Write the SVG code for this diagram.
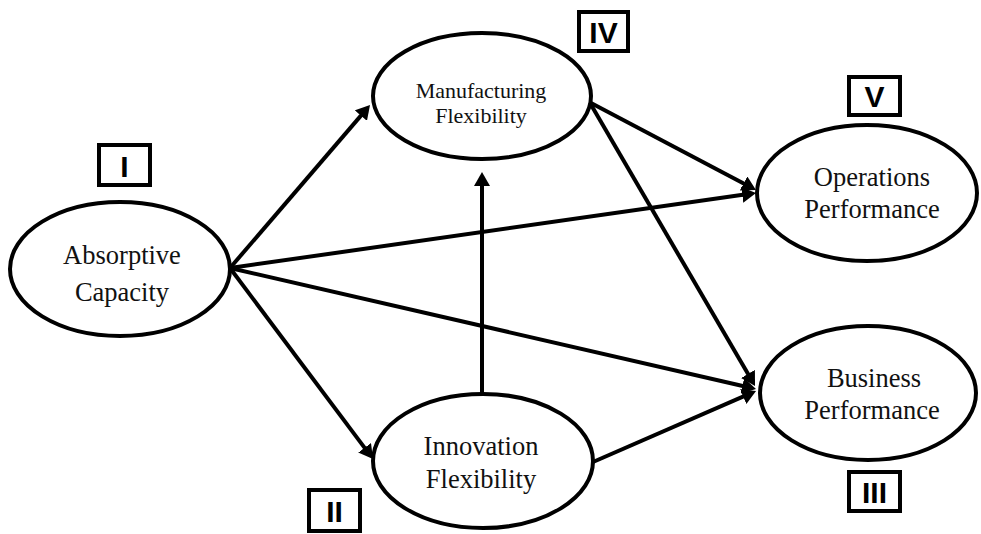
<svg xmlns="http://www.w3.org/2000/svg" width="981" height="534" viewBox="0 0 981 534">
  <style>
    .node { fill: #ffffff; stroke: #000000; stroke-width: 4; }
    .lbl { font-family: "Liberation Serif", "Times New Roman", serif; font-size: 26.5px; fill: #111111; text-anchor: middle; }
    .lbl-sm { font-size: 22px; }
    .tag rect { fill: #ffffff; stroke: #000000; stroke-width: 4; }
    .tag text { font-family: "Liberation Sans", Arial, sans-serif; font-weight: bold; font-size: 30px; fill: #000000; text-anchor: middle; }
    .edge { stroke: #000000; stroke-width: 4; fill: none; marker-end: url(#arrow); }
  </style>
  <defs>
    <marker id="arrow" viewBox="0 0 14 16" refX="6" refY="8" markerWidth="14" markerHeight="16" markerUnits="userSpaceOnUse" orient="auto">
      <path d="M0,0 L14,8 L0,16 Z" fill="#000000"/>
    </marker>
  </defs>

  <rect width="981" height="534" fill="#ffffff"/>

  <!-- Construct nodes -->
  <g id="absorptive-capacity">
    <ellipse class="node" cx="120" cy="269" rx="110" ry="67"/>
    <text class="lbl" x="122" y="264">Absorptive</text>
    <text class="lbl" x="122" y="301">Capacity</text>
  </g>

  <g id="manufacturing-flexibility">
    <ellipse class="node" cx="482" cy="96" rx="109" ry="63"/>
    <text class="lbl lbl-sm" x="481" y="98">Manufacturing</text>
    <text class="lbl lbl-sm" x="481" y="123">Flexibility</text>
  </g>

  <g id="innovation-flexibility">
    <ellipse class="node" cx="483" cy="461" rx="110" ry="67"/>
    <text class="lbl" x="481" y="455">Innovation</text>
    <text class="lbl" x="481" y="488">Flexibility</text>
  </g>

  <g id="operations-performance">
    <ellipse class="node" cx="867" cy="193" rx="110" ry="68"/>
    <text class="lbl" x="872" y="186">Operations</text>
    <text class="lbl" x="872" y="218">Performance</text>
  </g>

  <g id="business-performance">
    <ellipse class="node" cx="868" cy="393" rx="108" ry="67"/>
    <text class="lbl" x="874" y="387">Business</text>
    <text class="lbl" x="872" y="419">Performance</text>
  </g>

  <!-- Roman numeral tags -->
  <g id="tag-I" class="tag">
    <rect x="99" y="145" width="51" height="40"/>
    <text x="124.5" y="176.5">I</text>
  </g>
  <g id="tag-II" class="tag">
    <rect x="309" y="490" width="51" height="41"/>
    <text x="334.5" y="521.5">II</text>
  </g>
  <g id="tag-III" class="tag">
    <rect x="849" y="472" width="51" height="39"/>
    <text x="874.5" y="502.5">III</text>
  </g>
  <g id="tag-IV" class="tag">
    <rect x="579" y="12" width="49" height="39"/>
    <text x="603.5" y="42.5">IV</text>
  </g>
  <g id="tag-V" class="tag">
    <rect x="849" y="77" width="51" height="38"/>
    <text x="874.5" y="107">V</text>
  </g>

  <!-- Paths between constructs -->
  <g id="connectors">
    <line class="edge" x1="230" y1="268" x2="364.8" y2="111.1"/>
    <line class="edge" x1="230" y1="268" x2="368.2" y2="452.6"/>
    <line class="edge" x1="230" y1="268" x2="748.1" y2="194.1"/>
    <line class="edge" x1="230" y1="268" x2="748.2" y2="387.2"/>
    <line class="edge" x1="482" y1="394" x2="482" y2="180"/>
    <line class="edge" x1="591" y1="103" x2="748.9" y2="186.3"/>
    <line class="edge" x1="590" y1="103" x2="751" y2="379.1"/>
    <line class="edge" x1="593" y1="462" x2="748.7" y2="394.2"/>
  </g>
</svg>
